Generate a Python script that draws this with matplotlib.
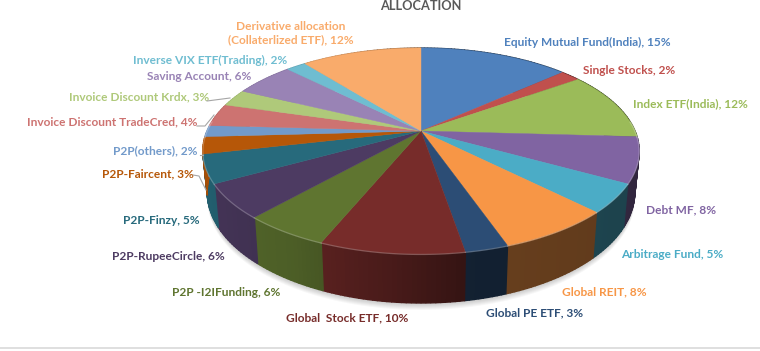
import numpy as np
import matplotlib
matplotlib.use("Agg")
import matplotlib.pyplot as plt
from matplotlib.colors import to_rgb

labels = ["Equity Mutual Fund(India), 15%", "Single Stocks, 2%", "Index ETF(India), 12%", "Debt MF, 8%",
          "Arbitrage Fund, 5%", "Global REIT, 8%", "Global PE ETF, 3%", "Global  Stock ETF, 10%",
          "P2P -I2IFunding, 6%", "P2P-RupeeCircle, 6%", "P2P-Finzy, 5%", "P2P-Faircent, 3%",
          "P2P(others), 2%", "Invoice Discount TradeCred, 4%", "Invoice Discount Krdx, 3%",
          "Saving Account, 6%", "Inverse VIX ETF(Trading), 2%", "Derivative allocation\n(Collaterlized ETF), 12%"]
values = [15, 2, 12, 8, 5, 8, 3, 10, 6, 6, 5, 3, 2, 4, 3, 6, 2, 12]
colors = ["#4F81BD", "#C0504D", "#9BBB59", "#8064A2", "#4BACC6", "#F79646", "#2C4D75", "#772C2A", "#5F7530",
          "#4D3B62", "#276A7C", "#B65708", "#729ACA", "#CD7371", "#AFC97A", "#9983B5", "#6FBDD1", "#F9AB6B"]

# label centres in pixels
label_x = [587, 629, 690, 681, 672, 604, 535, 347, 226, 168, 161, 148, 155, 112, 139, 199, 210, 291]
label_y = [42, 71, 104, 210, 254, 292, 312.5, 318, 292, 257, 220, 174, 151, 122, 97, 76, 60, 33]

leaders = [([207, 230], [101, 98]), ([197, 205, 214], [126, 126, 115]),
           ([200, 203], [155, 155]), ([193, 199, 206], [175, 176, 190])]

# pie geometry, fake perspective to look like the excel 3d pie
CX, CY = 421, 131
A, B, K = 214, 99.1, 0.194
DEPTH, SHRINK = 39.5, 0.98


def top_ring(theta):
    u, v = np.sin(theta), np.cos(theta)
    w = 1 + K * v
    return CX + A * u / w, CY - B * v / w


def bottom_ring(theta):
    x, y = top_ring(theta)
    w = 1 + K * np.cos(theta)
    return CX + (x - CX) * SHRINK, y + DEPTH / w


def side_shade(theta):
    u = np.sin(theta)
    return np.interp(u, [-1, -0.5, -0.1, 0.2, 1], [0.9, 0.8, 0.6, 0.42, 0.38])


fig = plt.figure(figsize=(7.6, 3.51), dpi=100)
ax = fig.add_axes([0, 0, 1, 1])
ax.set_xlim(0, 760)
ax.set_ylim(351, 0)
ax.axis("off")

ax.plot([0, 760], [348, 348], color="#D9D9D9", lw=1.2)

fractions = np.array(values) / sum(values)
edges = np.concatenate([[0], np.cumsum(fractions)]) * 2 * np.pi

# soft shadow below the pie
ring = np.linspace(0, 2 * np.pi, 300)
for off in [7, 6, 5, 4, 3, 2, 1]:
    sx, sy = bottom_ring(ring)
    ax.fill(sx, sy + off, color="#000000", alpha=0.03, lw=0, zorder=1)

# sides, split in strips for the gradient
for i in range(len(values)):
    base = np.array(to_rgb(colors[i]))
    n = max(3, int(values[i] * 3))
    steps = np.linspace(edges[i], edges[i + 1], n + 1)
    for a, b in zip(steps[:-1], steps[1:]):
        th = np.linspace(a, b, 6)
        tx, ty = top_ring(th)
        bx, by = bottom_ring(th)
        col = base * side_shade((a + b) / 2)
        ax.fill(np.r_[tx, bx[::-1]], np.r_[ty, by[::-1]], color=col, lw=1.0, zorder=2)

# top faces
for i in range(len(values)):
    th = np.linspace(edges[i], edges[i + 1], 80)
    tx, ty = top_ring(th)
    ax.fill(np.r_[CX, tx], np.r_[CY, ty], color=colors[i], lw=0.3, zorder=3)
    light = np.array(to_rgb(colors[i])) * 0.6 + 0.4
    front = np.cos(th) < 0.1
    ax.plot(tx[front], ty[front] + 0.5, color=light, lw=0.9, alpha=0.6, zorder=4)

for i in range(len(labels)):
    col = np.array(to_rgb(colors[i]))
    ax.text(label_x[i], label_y[i], labels[i], color=col, family="Lato", weight="bold", fontsize=8.6,
            ha="center", va="center", linespacing=1.2, zorder=5)

for lx, ly in leaders:
    ax.plot(lx, ly, color="#A6A6A6", lw=0.8, zorder=5)

ax.text(421, 5.5, "ALLOCATION", color="#595959", family="Lato", weight="bold", fontsize=9.2,
        ha="center", va="center", zorder=5)

fig.savefig("out.png", dpi=100, facecolor="white")
